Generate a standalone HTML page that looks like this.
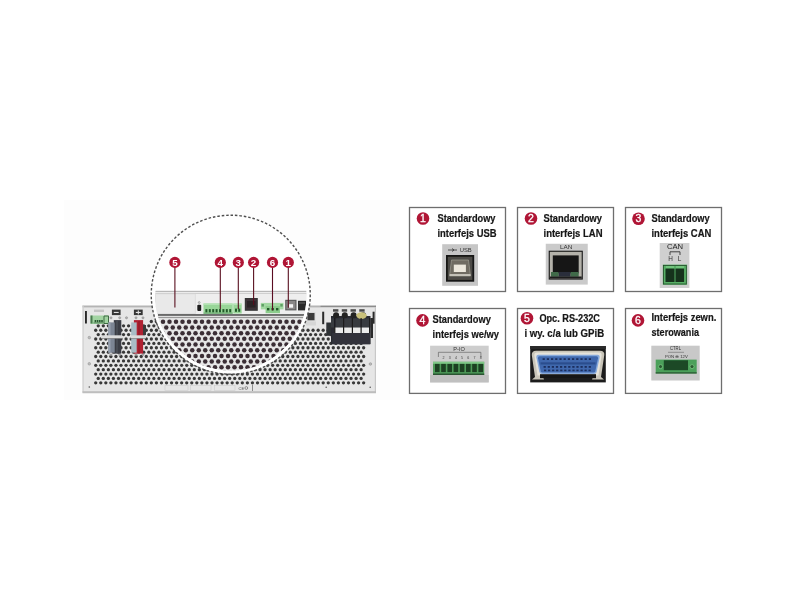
<!DOCTYPE html><html><head><meta charset="utf-8"><style>
html,body{margin:0;padding:0;background:#fff;width:800px;height:600px;overflow:hidden}
svg{display:block;will-change:transform}
text{font-family:"Liberation Sans",sans-serif}
.t{font-weight:bold;font-size:11.2px;fill:#161616;stroke:#161616;stroke-width:0.22px}
.bn{font-family:"Liberation Sans",sans-serif;font-weight:bold;font-size:9.8px;fill:#fff}
</style></head><body>
<svg width="800" height="600" viewBox="0 0 800 600">
<defs>
<clipPath id="cc"><circle cx="230.75" cy="294.7" r="76.0"/></clipPath>
<linearGradient id="chas" x1="0" y1="0" x2="0" y2="1"><stop offset="0" stop-color="#e4e4e4"/><stop offset="1" stop-color="#dedede"/></linearGradient>
<filter id="bl" x="-5%" y="-5%" width="110%" height="110%"><feGaussianBlur stdDeviation="0.35"/></filter>
<filter id="bl2" x="-5%" y="-5%" width="110%" height="110%"><feGaussianBlur stdDeviation="0.25"/></filter>
</defs>
<rect width="800" height="600" fill="#fff"/>
<rect x="64" y="200" width="336" height="200" fill="#fdfdfd"/>

<g filter="url(#bl)"><g id="dev">
<rect x="82.5" y="305.5" width="293.5" height="87.7" fill="#e6e6e6"/>
<rect x="82.5" y="305.6" width="293.5" height="1.8" fill="#b4b4b4"/>
<rect x="82.5" y="305.5" width="1.2" height="87" fill="#cfcfcf"/>
<rect x="374.8" y="305.5" width="1.2" height="87" fill="#c8c8c8"/>
<rect x="82.5" y="391.2" width="293.5" height="2.0" fill="#bdbdbd"/>
<g fill="#383838"><circle cx="95.72" cy="382.80" r="1.65"/><circle cx="100.78" cy="382.80" r="1.65"/><circle cx="105.84" cy="382.80" r="1.65"/><circle cx="110.89" cy="382.80" r="1.65"/><circle cx="115.94" cy="382.80" r="1.65"/><circle cx="121.00" cy="382.80" r="1.65"/><circle cx="126.06" cy="382.80" r="1.65"/><circle cx="131.11" cy="382.80" r="1.65"/><circle cx="136.16" cy="382.80" r="1.65"/><circle cx="141.22" cy="382.80" r="1.65"/><circle cx="146.28" cy="382.80" r="1.65"/><circle cx="151.33" cy="382.80" r="1.65"/><circle cx="156.38" cy="382.80" r="1.65"/><circle cx="161.44" cy="382.80" r="1.65"/><circle cx="166.50" cy="382.80" r="1.65"/><circle cx="171.55" cy="382.80" r="1.65"/><circle cx="176.60" cy="382.80" r="1.65"/><circle cx="181.66" cy="382.80" r="1.65"/><circle cx="186.72" cy="382.80" r="1.65"/><circle cx="191.77" cy="382.80" r="1.65"/><circle cx="196.82" cy="382.80" r="1.65"/><circle cx="201.88" cy="382.80" r="1.65"/><circle cx="206.94" cy="382.80" r="1.65"/><circle cx="211.99" cy="382.80" r="1.65"/><circle cx="217.04" cy="382.80" r="1.65"/><circle cx="222.10" cy="382.80" r="1.65"/><circle cx="227.16" cy="382.80" r="1.65"/><circle cx="232.21" cy="382.80" r="1.65"/><circle cx="237.26" cy="382.80" r="1.65"/><circle cx="242.32" cy="382.80" r="1.65"/><circle cx="247.38" cy="382.80" r="1.65"/><circle cx="252.43" cy="382.80" r="1.65"/><circle cx="257.49" cy="382.80" r="1.65"/><circle cx="262.54" cy="382.80" r="1.65"/><circle cx="267.59" cy="382.80" r="1.65"/><circle cx="272.65" cy="382.80" r="1.65"/><circle cx="277.70" cy="382.80" r="1.65"/><circle cx="282.76" cy="382.80" r="1.65"/><circle cx="287.81" cy="382.80" r="1.65"/><circle cx="292.87" cy="382.80" r="1.65"/><circle cx="297.93" cy="382.80" r="1.65"/><circle cx="302.98" cy="382.80" r="1.65"/><circle cx="308.03" cy="382.80" r="1.65"/><circle cx="313.09" cy="382.80" r="1.65"/><circle cx="318.14" cy="382.80" r="1.65"/><circle cx="323.20" cy="382.80" r="1.65"/><circle cx="328.25" cy="382.80" r="1.65"/><circle cx="333.31" cy="382.80" r="1.65"/><circle cx="338.37" cy="382.80" r="1.65"/><circle cx="343.42" cy="382.80" r="1.65"/><circle cx="348.47" cy="382.80" r="1.65"/><circle cx="353.53" cy="382.80" r="1.65"/><circle cx="358.58" cy="382.80" r="1.65"/><circle cx="363.64" cy="382.80" r="1.65"/><circle cx="98.25" cy="378.42" r="1.65"/><circle cx="103.31" cy="378.42" r="1.65"/><circle cx="108.36" cy="378.42" r="1.65"/><circle cx="113.42" cy="378.42" r="1.65"/><circle cx="118.47" cy="378.42" r="1.65"/><circle cx="123.53" cy="378.42" r="1.65"/><circle cx="128.58" cy="378.42" r="1.65"/><circle cx="133.64" cy="378.42" r="1.65"/><circle cx="138.69" cy="378.42" r="1.65"/><circle cx="143.75" cy="378.42" r="1.65"/><circle cx="148.80" cy="378.42" r="1.65"/><circle cx="153.86" cy="378.42" r="1.65"/><circle cx="158.91" cy="378.42" r="1.65"/><circle cx="163.97" cy="378.42" r="1.65"/><circle cx="169.02" cy="378.42" r="1.65"/><circle cx="174.08" cy="378.42" r="1.65"/><circle cx="179.13" cy="378.42" r="1.65"/><circle cx="184.19" cy="378.42" r="1.65"/><circle cx="189.24" cy="378.42" r="1.65"/><circle cx="194.30" cy="378.42" r="1.65"/><circle cx="199.35" cy="378.42" r="1.65"/><circle cx="204.41" cy="378.42" r="1.65"/><circle cx="209.46" cy="378.42" r="1.65"/><circle cx="214.52" cy="378.42" r="1.65"/><circle cx="219.57" cy="378.42" r="1.65"/><circle cx="224.63" cy="378.42" r="1.65"/><circle cx="229.68" cy="378.42" r="1.65"/><circle cx="234.74" cy="378.42" r="1.65"/><circle cx="239.79" cy="378.42" r="1.65"/><circle cx="244.85" cy="378.42" r="1.65"/><circle cx="249.90" cy="378.42" r="1.65"/><circle cx="254.96" cy="378.42" r="1.65"/><circle cx="260.01" cy="378.42" r="1.65"/><circle cx="265.07" cy="378.42" r="1.65"/><circle cx="270.12" cy="378.42" r="1.65"/><circle cx="275.18" cy="378.42" r="1.65"/><circle cx="280.23" cy="378.42" r="1.65"/><circle cx="285.29" cy="378.42" r="1.65"/><circle cx="290.34" cy="378.42" r="1.65"/><circle cx="295.40" cy="378.42" r="1.65"/><circle cx="300.45" cy="378.42" r="1.65"/><circle cx="305.51" cy="378.42" r="1.65"/><circle cx="310.56" cy="378.42" r="1.65"/><circle cx="315.62" cy="378.42" r="1.65"/><circle cx="320.67" cy="378.42" r="1.65"/><circle cx="325.73" cy="378.42" r="1.65"/><circle cx="330.78" cy="378.42" r="1.65"/><circle cx="335.84" cy="378.42" r="1.65"/><circle cx="340.89" cy="378.42" r="1.65"/><circle cx="345.95" cy="378.42" r="1.65"/><circle cx="351.00" cy="378.42" r="1.65"/><circle cx="356.06" cy="378.42" r="1.65"/><circle cx="361.11" cy="378.42" r="1.65"/><circle cx="95.72" cy="374.04" r="1.65"/><circle cx="100.78" cy="374.04" r="1.65"/><circle cx="105.84" cy="374.04" r="1.65"/><circle cx="110.89" cy="374.04" r="1.65"/><circle cx="115.94" cy="374.04" r="1.65"/><circle cx="121.00" cy="374.04" r="1.65"/><circle cx="126.06" cy="374.04" r="1.65"/><circle cx="131.11" cy="374.04" r="1.65"/><circle cx="136.16" cy="374.04" r="1.65"/><circle cx="141.22" cy="374.04" r="1.65"/><circle cx="146.28" cy="374.04" r="1.65"/><circle cx="151.33" cy="374.04" r="1.65"/><circle cx="156.38" cy="374.04" r="1.65"/><circle cx="161.44" cy="374.04" r="1.65"/><circle cx="166.50" cy="374.04" r="1.65"/><circle cx="171.55" cy="374.04" r="1.65"/><circle cx="176.60" cy="374.04" r="1.65"/><circle cx="181.66" cy="374.04" r="1.65"/><circle cx="186.72" cy="374.04" r="1.65"/><circle cx="191.77" cy="374.04" r="1.65"/><circle cx="196.82" cy="374.04" r="1.65"/><circle cx="201.88" cy="374.04" r="1.65"/><circle cx="206.94" cy="374.04" r="1.65"/><circle cx="211.99" cy="374.04" r="1.65"/><circle cx="217.04" cy="374.04" r="1.65"/><circle cx="222.10" cy="374.04" r="1.65"/><circle cx="227.16" cy="374.04" r="1.65"/><circle cx="232.21" cy="374.04" r="1.65"/><circle cx="237.26" cy="374.04" r="1.65"/><circle cx="242.32" cy="374.04" r="1.65"/><circle cx="247.38" cy="374.04" r="1.65"/><circle cx="252.43" cy="374.04" r="1.65"/><circle cx="257.49" cy="374.04" r="1.65"/><circle cx="262.54" cy="374.04" r="1.65"/><circle cx="267.59" cy="374.04" r="1.65"/><circle cx="272.65" cy="374.04" r="1.65"/><circle cx="277.70" cy="374.04" r="1.65"/><circle cx="282.76" cy="374.04" r="1.65"/><circle cx="287.81" cy="374.04" r="1.65"/><circle cx="292.87" cy="374.04" r="1.65"/><circle cx="297.93" cy="374.04" r="1.65"/><circle cx="302.98" cy="374.04" r="1.65"/><circle cx="308.03" cy="374.04" r="1.65"/><circle cx="313.09" cy="374.04" r="1.65"/><circle cx="318.14" cy="374.04" r="1.65"/><circle cx="323.20" cy="374.04" r="1.65"/><circle cx="328.25" cy="374.04" r="1.65"/><circle cx="333.31" cy="374.04" r="1.65"/><circle cx="338.37" cy="374.04" r="1.65"/><circle cx="343.42" cy="374.04" r="1.65"/><circle cx="348.47" cy="374.04" r="1.65"/><circle cx="353.53" cy="374.04" r="1.65"/><circle cx="358.58" cy="374.04" r="1.65"/><circle cx="363.64" cy="374.04" r="1.65"/><circle cx="98.25" cy="369.66" r="1.65"/><circle cx="103.31" cy="369.66" r="1.65"/><circle cx="108.36" cy="369.66" r="1.65"/><circle cx="113.42" cy="369.66" r="1.65"/><circle cx="118.47" cy="369.66" r="1.65"/><circle cx="123.53" cy="369.66" r="1.65"/><circle cx="128.58" cy="369.66" r="1.65"/><circle cx="133.64" cy="369.66" r="1.65"/><circle cx="138.69" cy="369.66" r="1.65"/><circle cx="143.75" cy="369.66" r="1.65"/><circle cx="148.80" cy="369.66" r="1.65"/><circle cx="153.86" cy="369.66" r="1.65"/><circle cx="158.91" cy="369.66" r="1.65"/><circle cx="163.97" cy="369.66" r="1.65"/><circle cx="169.02" cy="369.66" r="1.65"/><circle cx="174.08" cy="369.66" r="1.65"/><circle cx="179.13" cy="369.66" r="1.65"/><circle cx="184.19" cy="369.66" r="1.65"/><circle cx="189.24" cy="369.66" r="1.65"/><circle cx="194.30" cy="369.66" r="1.65"/><circle cx="199.35" cy="369.66" r="1.65"/><circle cx="204.41" cy="369.66" r="1.65"/><circle cx="209.46" cy="369.66" r="1.65"/><circle cx="214.52" cy="369.66" r="1.65"/><circle cx="219.57" cy="369.66" r="1.65"/><circle cx="224.63" cy="369.66" r="1.65"/><circle cx="229.68" cy="369.66" r="1.65"/><circle cx="234.74" cy="369.66" r="1.65"/><circle cx="239.79" cy="369.66" r="1.65"/><circle cx="244.85" cy="369.66" r="1.65"/><circle cx="249.90" cy="369.66" r="1.65"/><circle cx="254.96" cy="369.66" r="1.65"/><circle cx="260.01" cy="369.66" r="1.65"/><circle cx="265.07" cy="369.66" r="1.65"/><circle cx="270.12" cy="369.66" r="1.65"/><circle cx="275.18" cy="369.66" r="1.65"/><circle cx="280.23" cy="369.66" r="1.65"/><circle cx="285.29" cy="369.66" r="1.65"/><circle cx="290.34" cy="369.66" r="1.65"/><circle cx="295.40" cy="369.66" r="1.65"/><circle cx="300.45" cy="369.66" r="1.65"/><circle cx="305.51" cy="369.66" r="1.65"/><circle cx="310.56" cy="369.66" r="1.65"/><circle cx="315.62" cy="369.66" r="1.65"/><circle cx="320.67" cy="369.66" r="1.65"/><circle cx="325.73" cy="369.66" r="1.65"/><circle cx="330.78" cy="369.66" r="1.65"/><circle cx="335.84" cy="369.66" r="1.65"/><circle cx="340.89" cy="369.66" r="1.65"/><circle cx="345.95" cy="369.66" r="1.65"/><circle cx="351.00" cy="369.66" r="1.65"/><circle cx="356.06" cy="369.66" r="1.65"/><circle cx="361.11" cy="369.66" r="1.65"/><circle cx="95.72" cy="365.28" r="1.65"/><circle cx="100.78" cy="365.28" r="1.65"/><circle cx="105.84" cy="365.28" r="1.65"/><circle cx="110.89" cy="365.28" r="1.65"/><circle cx="115.94" cy="365.28" r="1.65"/><circle cx="121.00" cy="365.28" r="1.65"/><circle cx="126.06" cy="365.28" r="1.65"/><circle cx="131.11" cy="365.28" r="1.65"/><circle cx="136.16" cy="365.28" r="1.65"/><circle cx="141.22" cy="365.28" r="1.65"/><circle cx="146.28" cy="365.28" r="1.65"/><circle cx="151.33" cy="365.28" r="1.65"/><circle cx="156.38" cy="365.28" r="1.65"/><circle cx="161.44" cy="365.28" r="1.65"/><circle cx="166.50" cy="365.28" r="1.65"/><circle cx="171.55" cy="365.28" r="1.65"/><circle cx="176.60" cy="365.28" r="1.65"/><circle cx="181.66" cy="365.28" r="1.65"/><circle cx="186.72" cy="365.28" r="1.65"/><circle cx="191.77" cy="365.28" r="1.65"/><circle cx="196.82" cy="365.28" r="1.65"/><circle cx="201.88" cy="365.28" r="1.65"/><circle cx="206.94" cy="365.28" r="1.65"/><circle cx="211.99" cy="365.28" r="1.65"/><circle cx="217.04" cy="365.28" r="1.65"/><circle cx="222.10" cy="365.28" r="1.65"/><circle cx="227.16" cy="365.28" r="1.65"/><circle cx="232.21" cy="365.28" r="1.65"/><circle cx="237.26" cy="365.28" r="1.65"/><circle cx="242.32" cy="365.28" r="1.65"/><circle cx="247.38" cy="365.28" r="1.65"/><circle cx="252.43" cy="365.28" r="1.65"/><circle cx="257.49" cy="365.28" r="1.65"/><circle cx="262.54" cy="365.28" r="1.65"/><circle cx="267.59" cy="365.28" r="1.65"/><circle cx="272.65" cy="365.28" r="1.65"/><circle cx="277.70" cy="365.28" r="1.65"/><circle cx="282.76" cy="365.28" r="1.65"/><circle cx="287.81" cy="365.28" r="1.65"/><circle cx="292.87" cy="365.28" r="1.65"/><circle cx="297.93" cy="365.28" r="1.65"/><circle cx="302.98" cy="365.28" r="1.65"/><circle cx="308.03" cy="365.28" r="1.65"/><circle cx="313.09" cy="365.28" r="1.65"/><circle cx="318.14" cy="365.28" r="1.65"/><circle cx="323.20" cy="365.28" r="1.65"/><circle cx="328.25" cy="365.28" r="1.65"/><circle cx="333.31" cy="365.28" r="1.65"/><circle cx="338.37" cy="365.28" r="1.65"/><circle cx="343.42" cy="365.28" r="1.65"/><circle cx="348.47" cy="365.28" r="1.65"/><circle cx="353.53" cy="365.28" r="1.65"/><circle cx="358.58" cy="365.28" r="1.65"/><circle cx="363.64" cy="365.28" r="1.65"/><circle cx="98.25" cy="360.90" r="1.65"/><circle cx="103.31" cy="360.90" r="1.65"/><circle cx="108.36" cy="360.90" r="1.65"/><circle cx="113.42" cy="360.90" r="1.65"/><circle cx="118.47" cy="360.90" r="1.65"/><circle cx="123.53" cy="360.90" r="1.65"/><circle cx="128.58" cy="360.90" r="1.65"/><circle cx="133.64" cy="360.90" r="1.65"/><circle cx="138.69" cy="360.90" r="1.65"/><circle cx="143.75" cy="360.90" r="1.65"/><circle cx="148.80" cy="360.90" r="1.65"/><circle cx="153.86" cy="360.90" r="1.65"/><circle cx="158.91" cy="360.90" r="1.65"/><circle cx="163.97" cy="360.90" r="1.65"/><circle cx="169.02" cy="360.90" r="1.65"/><circle cx="174.08" cy="360.90" r="1.65"/><circle cx="179.13" cy="360.90" r="1.65"/><circle cx="184.19" cy="360.90" r="1.65"/><circle cx="189.24" cy="360.90" r="1.65"/><circle cx="194.30" cy="360.90" r="1.65"/><circle cx="199.35" cy="360.90" r="1.65"/><circle cx="204.41" cy="360.90" r="1.65"/><circle cx="209.46" cy="360.90" r="1.65"/><circle cx="214.52" cy="360.90" r="1.65"/><circle cx="219.57" cy="360.90" r="1.65"/><circle cx="224.63" cy="360.90" r="1.65"/><circle cx="229.68" cy="360.90" r="1.65"/><circle cx="234.74" cy="360.90" r="1.65"/><circle cx="239.79" cy="360.90" r="1.65"/><circle cx="244.85" cy="360.90" r="1.65"/><circle cx="249.90" cy="360.90" r="1.65"/><circle cx="254.96" cy="360.90" r="1.65"/><circle cx="260.01" cy="360.90" r="1.65"/><circle cx="265.07" cy="360.90" r="1.65"/><circle cx="270.12" cy="360.90" r="1.65"/><circle cx="275.18" cy="360.90" r="1.65"/><circle cx="280.23" cy="360.90" r="1.65"/><circle cx="285.29" cy="360.90" r="1.65"/><circle cx="290.34" cy="360.90" r="1.65"/><circle cx="295.40" cy="360.90" r="1.65"/><circle cx="300.45" cy="360.90" r="1.65"/><circle cx="305.51" cy="360.90" r="1.65"/><circle cx="310.56" cy="360.90" r="1.65"/><circle cx="315.62" cy="360.90" r="1.65"/><circle cx="320.67" cy="360.90" r="1.65"/><circle cx="325.73" cy="360.90" r="1.65"/><circle cx="330.78" cy="360.90" r="1.65"/><circle cx="335.84" cy="360.90" r="1.65"/><circle cx="340.89" cy="360.90" r="1.65"/><circle cx="345.95" cy="360.90" r="1.65"/><circle cx="351.00" cy="360.90" r="1.65"/><circle cx="356.06" cy="360.90" r="1.65"/><circle cx="361.11" cy="360.90" r="1.65"/><circle cx="95.72" cy="356.52" r="1.65"/><circle cx="100.78" cy="356.52" r="1.65"/><circle cx="105.84" cy="356.52" r="1.65"/><circle cx="110.89" cy="356.52" r="1.65"/><circle cx="115.94" cy="356.52" r="1.65"/><circle cx="121.00" cy="356.52" r="1.65"/><circle cx="126.06" cy="356.52" r="1.65"/><circle cx="131.11" cy="356.52" r="1.65"/><circle cx="136.16" cy="356.52" r="1.65"/><circle cx="141.22" cy="356.52" r="1.65"/><circle cx="146.28" cy="356.52" r="1.65"/><circle cx="151.33" cy="356.52" r="1.65"/><circle cx="156.38" cy="356.52" r="1.65"/><circle cx="161.44" cy="356.52" r="1.65"/><circle cx="166.50" cy="356.52" r="1.65"/><circle cx="171.55" cy="356.52" r="1.65"/><circle cx="176.60" cy="356.52" r="1.65"/><circle cx="181.66" cy="356.52" r="1.65"/><circle cx="186.72" cy="356.52" r="1.65"/><circle cx="191.77" cy="356.52" r="1.65"/><circle cx="196.82" cy="356.52" r="1.65"/><circle cx="201.88" cy="356.52" r="1.65"/><circle cx="206.94" cy="356.52" r="1.65"/><circle cx="211.99" cy="356.52" r="1.65"/><circle cx="217.04" cy="356.52" r="1.65"/><circle cx="222.10" cy="356.52" r="1.65"/><circle cx="227.16" cy="356.52" r="1.65"/><circle cx="232.21" cy="356.52" r="1.65"/><circle cx="237.26" cy="356.52" r="1.65"/><circle cx="242.32" cy="356.52" r="1.65"/><circle cx="247.38" cy="356.52" r="1.65"/><circle cx="252.43" cy="356.52" r="1.65"/><circle cx="257.49" cy="356.52" r="1.65"/><circle cx="262.54" cy="356.52" r="1.65"/><circle cx="267.59" cy="356.52" r="1.65"/><circle cx="272.65" cy="356.52" r="1.65"/><circle cx="277.70" cy="356.52" r="1.65"/><circle cx="282.76" cy="356.52" r="1.65"/><circle cx="287.81" cy="356.52" r="1.65"/><circle cx="292.87" cy="356.52" r="1.65"/><circle cx="297.93" cy="356.52" r="1.65"/><circle cx="302.98" cy="356.52" r="1.65"/><circle cx="308.03" cy="356.52" r="1.65"/><circle cx="313.09" cy="356.52" r="1.65"/><circle cx="318.14" cy="356.52" r="1.65"/><circle cx="323.20" cy="356.52" r="1.65"/><circle cx="328.25" cy="356.52" r="1.65"/><circle cx="333.31" cy="356.52" r="1.65"/><circle cx="338.37" cy="356.52" r="1.65"/><circle cx="343.42" cy="356.52" r="1.65"/><circle cx="348.47" cy="356.52" r="1.65"/><circle cx="353.53" cy="356.52" r="1.65"/><circle cx="358.58" cy="356.52" r="1.65"/><circle cx="363.64" cy="356.52" r="1.65"/><circle cx="98.25" cy="352.14" r="1.65"/><circle cx="103.31" cy="352.14" r="1.65"/><circle cx="108.36" cy="352.14" r="1.65"/><circle cx="113.42" cy="352.14" r="1.65"/><circle cx="118.47" cy="352.14" r="1.65"/><circle cx="123.53" cy="352.14" r="1.65"/><circle cx="128.58" cy="352.14" r="1.65"/><circle cx="133.64" cy="352.14" r="1.65"/><circle cx="138.69" cy="352.14" r="1.65"/><circle cx="143.75" cy="352.14" r="1.65"/><circle cx="148.80" cy="352.14" r="1.65"/><circle cx="153.86" cy="352.14" r="1.65"/><circle cx="158.91" cy="352.14" r="1.65"/><circle cx="163.97" cy="352.14" r="1.65"/><circle cx="169.02" cy="352.14" r="1.65"/><circle cx="174.08" cy="352.14" r="1.65"/><circle cx="179.13" cy="352.14" r="1.65"/><circle cx="184.19" cy="352.14" r="1.65"/><circle cx="189.24" cy="352.14" r="1.65"/><circle cx="194.30" cy="352.14" r="1.65"/><circle cx="199.35" cy="352.14" r="1.65"/><circle cx="204.41" cy="352.14" r="1.65"/><circle cx="209.46" cy="352.14" r="1.65"/><circle cx="214.52" cy="352.14" r="1.65"/><circle cx="219.57" cy="352.14" r="1.65"/><circle cx="224.63" cy="352.14" r="1.65"/><circle cx="229.68" cy="352.14" r="1.65"/><circle cx="234.74" cy="352.14" r="1.65"/><circle cx="239.79" cy="352.14" r="1.65"/><circle cx="244.85" cy="352.14" r="1.65"/><circle cx="249.90" cy="352.14" r="1.65"/><circle cx="254.96" cy="352.14" r="1.65"/><circle cx="260.01" cy="352.14" r="1.65"/><circle cx="265.07" cy="352.14" r="1.65"/><circle cx="270.12" cy="352.14" r="1.65"/><circle cx="275.18" cy="352.14" r="1.65"/><circle cx="280.23" cy="352.14" r="1.65"/><circle cx="285.29" cy="352.14" r="1.65"/><circle cx="290.34" cy="352.14" r="1.65"/><circle cx="295.40" cy="352.14" r="1.65"/><circle cx="300.45" cy="352.14" r="1.65"/><circle cx="305.51" cy="352.14" r="1.65"/><circle cx="310.56" cy="352.14" r="1.65"/><circle cx="315.62" cy="352.14" r="1.65"/><circle cx="320.67" cy="352.14" r="1.65"/><circle cx="325.73" cy="352.14" r="1.65"/><circle cx="330.78" cy="352.14" r="1.65"/><circle cx="335.84" cy="352.14" r="1.65"/><circle cx="340.89" cy="352.14" r="1.65"/><circle cx="345.95" cy="352.14" r="1.65"/><circle cx="351.00" cy="352.14" r="1.65"/><circle cx="356.06" cy="352.14" r="1.65"/><circle cx="361.11" cy="352.14" r="1.65"/><circle cx="95.72" cy="347.76" r="1.65"/><circle cx="100.78" cy="347.76" r="1.65"/><circle cx="105.84" cy="347.76" r="1.65"/><circle cx="110.89" cy="347.76" r="1.65"/><circle cx="115.94" cy="347.76" r="1.65"/><circle cx="121.00" cy="347.76" r="1.65"/><circle cx="126.06" cy="347.76" r="1.65"/><circle cx="131.11" cy="347.76" r="1.65"/><circle cx="136.16" cy="347.76" r="1.65"/><circle cx="141.22" cy="347.76" r="1.65"/><circle cx="146.28" cy="347.76" r="1.65"/><circle cx="151.33" cy="347.76" r="1.65"/><circle cx="156.38" cy="347.76" r="1.65"/><circle cx="161.44" cy="347.76" r="1.65"/><circle cx="166.50" cy="347.76" r="1.65"/><circle cx="171.55" cy="347.76" r="1.65"/><circle cx="176.60" cy="347.76" r="1.65"/><circle cx="181.66" cy="347.76" r="1.65"/><circle cx="186.72" cy="347.76" r="1.65"/><circle cx="191.77" cy="347.76" r="1.65"/><circle cx="196.82" cy="347.76" r="1.65"/><circle cx="201.88" cy="347.76" r="1.65"/><circle cx="206.94" cy="347.76" r="1.65"/><circle cx="211.99" cy="347.76" r="1.65"/><circle cx="217.04" cy="347.76" r="1.65"/><circle cx="222.10" cy="347.76" r="1.65"/><circle cx="227.16" cy="347.76" r="1.65"/><circle cx="232.21" cy="347.76" r="1.65"/><circle cx="237.26" cy="347.76" r="1.65"/><circle cx="242.32" cy="347.76" r="1.65"/><circle cx="247.38" cy="347.76" r="1.65"/><circle cx="252.43" cy="347.76" r="1.65"/><circle cx="257.49" cy="347.76" r="1.65"/><circle cx="262.54" cy="347.76" r="1.65"/><circle cx="267.59" cy="347.76" r="1.65"/><circle cx="272.65" cy="347.76" r="1.65"/><circle cx="277.70" cy="347.76" r="1.65"/><circle cx="282.76" cy="347.76" r="1.65"/><circle cx="287.81" cy="347.76" r="1.65"/><circle cx="292.87" cy="347.76" r="1.65"/><circle cx="297.93" cy="347.76" r="1.65"/><circle cx="302.98" cy="347.76" r="1.65"/><circle cx="308.03" cy="347.76" r="1.65"/><circle cx="313.09" cy="347.76" r="1.65"/><circle cx="318.14" cy="347.76" r="1.65"/><circle cx="323.20" cy="347.76" r="1.65"/><circle cx="328.25" cy="347.76" r="1.65"/><circle cx="333.31" cy="347.76" r="1.65"/><circle cx="338.37" cy="347.76" r="1.65"/><circle cx="343.42" cy="347.76" r="1.65"/><circle cx="348.47" cy="347.76" r="1.65"/><circle cx="353.53" cy="347.76" r="1.65"/><circle cx="358.58" cy="347.76" r="1.65"/><circle cx="363.64" cy="347.76" r="1.65"/><circle cx="98.25" cy="343.38" r="1.65"/><circle cx="103.31" cy="343.38" r="1.65"/><circle cx="108.36" cy="343.38" r="1.65"/><circle cx="113.42" cy="343.38" r="1.65"/><circle cx="118.47" cy="343.38" r="1.65"/><circle cx="123.53" cy="343.38" r="1.65"/><circle cx="128.58" cy="343.38" r="1.65"/><circle cx="133.64" cy="343.38" r="1.65"/><circle cx="138.69" cy="343.38" r="1.65"/><circle cx="143.75" cy="343.38" r="1.65"/><circle cx="148.80" cy="343.38" r="1.65"/><circle cx="153.86" cy="343.38" r="1.65"/><circle cx="158.91" cy="343.38" r="1.65"/><circle cx="163.97" cy="343.38" r="1.65"/><circle cx="169.02" cy="343.38" r="1.65"/><circle cx="174.08" cy="343.38" r="1.65"/><circle cx="179.13" cy="343.38" r="1.65"/><circle cx="184.19" cy="343.38" r="1.65"/><circle cx="189.24" cy="343.38" r="1.65"/><circle cx="194.30" cy="343.38" r="1.65"/><circle cx="199.35" cy="343.38" r="1.65"/><circle cx="204.41" cy="343.38" r="1.65"/><circle cx="209.46" cy="343.38" r="1.65"/><circle cx="214.52" cy="343.38" r="1.65"/><circle cx="219.57" cy="343.38" r="1.65"/><circle cx="224.63" cy="343.38" r="1.65"/><circle cx="229.68" cy="343.38" r="1.65"/><circle cx="234.74" cy="343.38" r="1.65"/><circle cx="239.79" cy="343.38" r="1.65"/><circle cx="244.85" cy="343.38" r="1.65"/><circle cx="249.90" cy="343.38" r="1.65"/><circle cx="254.96" cy="343.38" r="1.65"/><circle cx="260.01" cy="343.38" r="1.65"/><circle cx="265.07" cy="343.38" r="1.65"/><circle cx="270.12" cy="343.38" r="1.65"/><circle cx="275.18" cy="343.38" r="1.65"/><circle cx="280.23" cy="343.38" r="1.65"/><circle cx="285.29" cy="343.38" r="1.65"/><circle cx="290.34" cy="343.38" r="1.65"/><circle cx="295.40" cy="343.38" r="1.65"/><circle cx="300.45" cy="343.38" r="1.65"/><circle cx="305.51" cy="343.38" r="1.65"/><circle cx="310.56" cy="343.38" r="1.65"/><circle cx="315.62" cy="343.38" r="1.65"/><circle cx="320.67" cy="343.38" r="1.65"/><circle cx="325.73" cy="343.38" r="1.65"/><circle cx="330.78" cy="343.38" r="1.65"/><circle cx="335.84" cy="343.38" r="1.65"/><circle cx="340.89" cy="343.38" r="1.65"/><circle cx="345.95" cy="343.38" r="1.65"/><circle cx="351.00" cy="343.38" r="1.65"/><circle cx="356.06" cy="343.38" r="1.65"/><circle cx="361.11" cy="343.38" r="1.65"/><circle cx="95.72" cy="339.00" r="1.65"/><circle cx="100.78" cy="339.00" r="1.65"/><circle cx="105.84" cy="339.00" r="1.65"/><circle cx="110.89" cy="339.00" r="1.65"/><circle cx="115.94" cy="339.00" r="1.65"/><circle cx="121.00" cy="339.00" r="1.65"/><circle cx="126.06" cy="339.00" r="1.65"/><circle cx="131.11" cy="339.00" r="1.65"/><circle cx="136.16" cy="339.00" r="1.65"/><circle cx="141.22" cy="339.00" r="1.65"/><circle cx="146.28" cy="339.00" r="1.65"/><circle cx="151.33" cy="339.00" r="1.65"/><circle cx="156.38" cy="339.00" r="1.65"/><circle cx="161.44" cy="339.00" r="1.65"/><circle cx="166.50" cy="339.00" r="1.65"/><circle cx="171.55" cy="339.00" r="1.65"/><circle cx="176.60" cy="339.00" r="1.65"/><circle cx="181.66" cy="339.00" r="1.65"/><circle cx="186.72" cy="339.00" r="1.65"/><circle cx="191.77" cy="339.00" r="1.65"/><circle cx="196.82" cy="339.00" r="1.65"/><circle cx="201.88" cy="339.00" r="1.65"/><circle cx="206.94" cy="339.00" r="1.65"/><circle cx="211.99" cy="339.00" r="1.65"/><circle cx="217.04" cy="339.00" r="1.65"/><circle cx="222.10" cy="339.00" r="1.65"/><circle cx="227.16" cy="339.00" r="1.65"/><circle cx="232.21" cy="339.00" r="1.65"/><circle cx="237.26" cy="339.00" r="1.65"/><circle cx="242.32" cy="339.00" r="1.65"/><circle cx="247.38" cy="339.00" r="1.65"/><circle cx="252.43" cy="339.00" r="1.65"/><circle cx="257.49" cy="339.00" r="1.65"/><circle cx="262.54" cy="339.00" r="1.65"/><circle cx="267.59" cy="339.00" r="1.65"/><circle cx="272.65" cy="339.00" r="1.65"/><circle cx="277.70" cy="339.00" r="1.65"/><circle cx="282.76" cy="339.00" r="1.65"/><circle cx="287.81" cy="339.00" r="1.65"/><circle cx="292.87" cy="339.00" r="1.65"/><circle cx="297.93" cy="339.00" r="1.65"/><circle cx="302.98" cy="339.00" r="1.65"/><circle cx="308.03" cy="339.00" r="1.65"/><circle cx="313.09" cy="339.00" r="1.65"/><circle cx="318.14" cy="339.00" r="1.65"/><circle cx="323.20" cy="339.00" r="1.65"/><circle cx="328.25" cy="339.00" r="1.65"/><circle cx="333.31" cy="339.00" r="1.65"/><circle cx="338.37" cy="339.00" r="1.65"/><circle cx="343.42" cy="339.00" r="1.65"/><circle cx="348.47" cy="339.00" r="1.65"/><circle cx="353.53" cy="339.00" r="1.65"/><circle cx="358.58" cy="339.00" r="1.65"/><circle cx="363.64" cy="339.00" r="1.65"/><circle cx="98.25" cy="334.62" r="1.65"/><circle cx="103.31" cy="334.62" r="1.65"/><circle cx="108.36" cy="334.62" r="1.65"/><circle cx="113.42" cy="334.62" r="1.65"/><circle cx="118.47" cy="334.62" r="1.65"/><circle cx="123.53" cy="334.62" r="1.65"/><circle cx="128.58" cy="334.62" r="1.65"/><circle cx="133.64" cy="334.62" r="1.65"/><circle cx="138.69" cy="334.62" r="1.65"/><circle cx="143.75" cy="334.62" r="1.65"/><circle cx="148.80" cy="334.62" r="1.65"/><circle cx="153.86" cy="334.62" r="1.65"/><circle cx="158.91" cy="334.62" r="1.65"/><circle cx="163.97" cy="334.62" r="1.65"/><circle cx="169.02" cy="334.62" r="1.65"/><circle cx="174.08" cy="334.62" r="1.65"/><circle cx="179.13" cy="334.62" r="1.65"/><circle cx="184.19" cy="334.62" r="1.65"/><circle cx="189.24" cy="334.62" r="1.65"/><circle cx="194.30" cy="334.62" r="1.65"/><circle cx="199.35" cy="334.62" r="1.65"/><circle cx="204.41" cy="334.62" r="1.65"/><circle cx="209.46" cy="334.62" r="1.65"/><circle cx="214.52" cy="334.62" r="1.65"/><circle cx="219.57" cy="334.62" r="1.65"/><circle cx="224.63" cy="334.62" r="1.65"/><circle cx="229.68" cy="334.62" r="1.65"/><circle cx="234.74" cy="334.62" r="1.65"/><circle cx="239.79" cy="334.62" r="1.65"/><circle cx="244.85" cy="334.62" r="1.65"/><circle cx="249.90" cy="334.62" r="1.65"/><circle cx="254.96" cy="334.62" r="1.65"/><circle cx="260.01" cy="334.62" r="1.65"/><circle cx="265.07" cy="334.62" r="1.65"/><circle cx="270.12" cy="334.62" r="1.65"/><circle cx="275.18" cy="334.62" r="1.65"/><circle cx="280.23" cy="334.62" r="1.65"/><circle cx="285.29" cy="334.62" r="1.65"/><circle cx="290.34" cy="334.62" r="1.65"/><circle cx="295.40" cy="334.62" r="1.65"/><circle cx="300.45" cy="334.62" r="1.65"/><circle cx="305.51" cy="334.62" r="1.65"/><circle cx="310.56" cy="334.62" r="1.65"/><circle cx="315.62" cy="334.62" r="1.65"/><circle cx="320.67" cy="334.62" r="1.65"/><circle cx="325.73" cy="334.62" r="1.65"/><circle cx="330.78" cy="334.62" r="1.65"/><circle cx="335.84" cy="334.62" r="1.65"/><circle cx="340.89" cy="334.62" r="1.65"/><circle cx="345.95" cy="334.62" r="1.65"/><circle cx="351.00" cy="334.62" r="1.65"/><circle cx="356.06" cy="334.62" r="1.65"/><circle cx="361.11" cy="334.62" r="1.65"/><circle cx="95.72" cy="330.24" r="1.65"/><circle cx="100.78" cy="330.24" r="1.65"/><circle cx="105.84" cy="330.24" r="1.65"/><circle cx="110.89" cy="330.24" r="1.65"/><circle cx="115.94" cy="330.24" r="1.65"/><circle cx="121.00" cy="330.24" r="1.65"/><circle cx="126.06" cy="330.24" r="1.65"/><circle cx="131.11" cy="330.24" r="1.65"/><circle cx="136.16" cy="330.24" r="1.65"/><circle cx="141.22" cy="330.24" r="1.65"/><circle cx="146.28" cy="330.24" r="1.65"/><circle cx="151.33" cy="330.24" r="1.65"/><circle cx="156.38" cy="330.24" r="1.65"/><circle cx="161.44" cy="330.24" r="1.65"/><circle cx="166.50" cy="330.24" r="1.65"/><circle cx="171.55" cy="330.24" r="1.65"/><circle cx="176.60" cy="330.24" r="1.65"/><circle cx="181.66" cy="330.24" r="1.65"/><circle cx="186.72" cy="330.24" r="1.65"/><circle cx="191.77" cy="330.24" r="1.65"/><circle cx="196.82" cy="330.24" r="1.65"/><circle cx="201.88" cy="330.24" r="1.65"/><circle cx="206.94" cy="330.24" r="1.65"/><circle cx="211.99" cy="330.24" r="1.65"/><circle cx="217.04" cy="330.24" r="1.65"/><circle cx="222.10" cy="330.24" r="1.65"/><circle cx="227.16" cy="330.24" r="1.65"/><circle cx="232.21" cy="330.24" r="1.65"/><circle cx="237.26" cy="330.24" r="1.65"/><circle cx="242.32" cy="330.24" r="1.65"/><circle cx="247.38" cy="330.24" r="1.65"/><circle cx="252.43" cy="330.24" r="1.65"/><circle cx="257.49" cy="330.24" r="1.65"/><circle cx="262.54" cy="330.24" r="1.65"/><circle cx="267.59" cy="330.24" r="1.65"/><circle cx="272.65" cy="330.24" r="1.65"/><circle cx="277.70" cy="330.24" r="1.65"/><circle cx="282.76" cy="330.24" r="1.65"/><circle cx="287.81" cy="330.24" r="1.65"/><circle cx="292.87" cy="330.24" r="1.65"/><circle cx="297.93" cy="330.24" r="1.65"/><circle cx="302.98" cy="330.24" r="1.65"/><circle cx="308.03" cy="330.24" r="1.65"/><circle cx="313.09" cy="330.24" r="1.65"/><circle cx="318.14" cy="330.24" r="1.65"/><circle cx="323.20" cy="330.24" r="1.65"/><circle cx="328.25" cy="330.24" r="1.65"/><circle cx="333.31" cy="330.24" r="1.65"/><circle cx="338.37" cy="330.24" r="1.65"/><circle cx="343.42" cy="330.24" r="1.65"/><circle cx="348.47" cy="330.24" r="1.65"/><circle cx="353.53" cy="330.24" r="1.65"/><circle cx="358.58" cy="330.24" r="1.65"/><circle cx="363.64" cy="330.24" r="1.65"/><circle cx="98.25" cy="325.86" r="1.65"/><circle cx="103.31" cy="325.86" r="1.65"/><circle cx="108.36" cy="325.86" r="1.65"/><circle cx="113.42" cy="325.86" r="1.65"/><circle cx="118.47" cy="325.86" r="1.65"/><circle cx="123.53" cy="325.86" r="1.65"/><circle cx="128.58" cy="325.86" r="1.65"/><circle cx="133.64" cy="325.86" r="1.65"/><circle cx="138.69" cy="325.86" r="1.65"/><circle cx="143.75" cy="325.86" r="1.65"/><circle cx="148.80" cy="325.86" r="1.65"/><circle cx="153.86" cy="325.86" r="1.65"/><circle cx="158.91" cy="325.86" r="1.65"/><circle cx="163.97" cy="325.86" r="1.65"/><circle cx="169.02" cy="325.86" r="1.65"/><circle cx="174.08" cy="325.86" r="1.65"/><circle cx="179.13" cy="325.86" r="1.65"/><circle cx="184.19" cy="325.86" r="1.65"/><circle cx="189.24" cy="325.86" r="1.65"/><circle cx="194.30" cy="325.86" r="1.65"/><circle cx="199.35" cy="325.86" r="1.65"/><circle cx="204.41" cy="325.86" r="1.65"/><circle cx="209.46" cy="325.86" r="1.65"/><circle cx="214.52" cy="325.86" r="1.65"/><circle cx="219.57" cy="325.86" r="1.65"/><circle cx="224.63" cy="325.86" r="1.65"/><circle cx="229.68" cy="325.86" r="1.65"/><circle cx="234.74" cy="325.86" r="1.65"/><circle cx="239.79" cy="325.86" r="1.65"/><circle cx="244.85" cy="325.86" r="1.65"/><circle cx="249.90" cy="325.86" r="1.65"/><circle cx="254.96" cy="325.86" r="1.65"/><circle cx="260.01" cy="325.86" r="1.65"/><circle cx="265.07" cy="325.86" r="1.65"/><circle cx="270.12" cy="325.86" r="1.65"/><circle cx="275.18" cy="325.86" r="1.65"/><circle cx="280.23" cy="325.86" r="1.65"/><circle cx="285.29" cy="325.86" r="1.65"/><circle cx="290.34" cy="325.86" r="1.65"/><circle cx="295.40" cy="325.86" r="1.65"/><circle cx="151.33" cy="321.48" r="1.65"/><circle cx="156.38" cy="321.48" r="1.65"/><circle cx="161.44" cy="321.48" r="1.65"/><circle cx="166.50" cy="321.48" r="1.65"/><circle cx="171.55" cy="321.48" r="1.65"/><circle cx="176.60" cy="321.48" r="1.65"/><circle cx="181.66" cy="321.48" r="1.65"/><circle cx="186.72" cy="321.48" r="1.65"/><circle cx="191.77" cy="321.48" r="1.65"/><circle cx="196.82" cy="321.48" r="1.65"/><circle cx="201.88" cy="321.48" r="1.65"/><circle cx="206.94" cy="321.48" r="1.65"/><circle cx="211.99" cy="321.48" r="1.65"/><circle cx="217.04" cy="321.48" r="1.65"/><circle cx="222.10" cy="321.48" r="1.65"/><circle cx="227.16" cy="321.48" r="1.65"/><circle cx="232.21" cy="321.48" r="1.65"/><circle cx="237.26" cy="321.48" r="1.65"/><circle cx="242.32" cy="321.48" r="1.65"/><circle cx="247.38" cy="321.48" r="1.65"/><circle cx="252.43" cy="321.48" r="1.65"/><circle cx="257.49" cy="321.48" r="1.65"/><circle cx="262.54" cy="321.48" r="1.65"/><circle cx="267.59" cy="321.48" r="1.65"/><circle cx="272.65" cy="321.48" r="1.65"/><circle cx="277.70" cy="321.48" r="1.65"/><circle cx="282.76" cy="321.48" r="1.65"/><circle cx="287.81" cy="321.48" r="1.65"/><circle cx="292.87" cy="321.48" r="1.65"/><circle cx="297.93" cy="321.48" r="1.65"/></g>
<rect x="85" y="311" width="1.9" height="12.5" fill="#2a2a2a"/>
<rect x="94" y="309.6" width="10" height="2.4" fill="#c4c4c4"/>
<rect x="90.5" y="315.5" width="18.5" height="8.5" fill="#a2d4a2"/>
<rect x="90.5" y="315.5" width="2" height="8" fill="#4a7a50"/>
<path d="M104 316 h4.5 v7.5 h-4.5 z" fill="none" stroke="#3c6a42" stroke-width="1"/>
<rect x="94.6" y="320" width="1.6" height="2.4" fill="#2a5a30"/>
<rect x="96.8" y="320" width="1.6" height="2.4" fill="#2a5a30"/>
<rect x="99.0" y="320" width="1.6" height="2.4" fill="#2a5a30"/>
<rect x="101.2" y="320" width="1.6" height="2.4" fill="#2a5a30"/>
<rect x="93.5" y="322.4" width="10" height="1" fill="#5a8a60"/>
<circle cx="89.3" cy="337.6" r="1.3" fill="#bcbcbc" stroke="#8a8a8a" stroke-width="0.5"/>
<circle cx="89.3" cy="363.8" r="1.3" fill="#bcbcbc" stroke="#8a8a8a" stroke-width="0.5"/>
<circle cx="89.3" cy="387" r="0.8" fill="#555"/>
<rect x="111.9" y="309.6" width="8.7" height="5.5" fill="#353535"/><rect x="113.8" y="311.9" width="4.9" height="1.1" fill="#e0e0e0"/>
<rect x="133.9" y="309.6" width="8.8" height="5.5" fill="#353535"/><rect x="135.8" y="311.9" width="5" height="1.1" fill="#e0e0e0"/><rect x="137.75" y="310.4" width="1.1" height="4" fill="#e0e0e0"/>
<circle cx="111" cy="317.8" r="1.1" fill="#b0b0b0" stroke="#777" stroke-width="0.4"/>
<circle cx="119.7" cy="317.8" r="1.1" fill="#b0b0b0" stroke="#777" stroke-width="0.4"/>
<circle cx="126.5" cy="317.8" r="1.1" fill="#b0b0b0" stroke="#777" stroke-width="0.4"/>
<circle cx="136" cy="317.8" r="1.1" fill="#b0b0b0" stroke="#777" stroke-width="0.4"/>
<circle cx="143" cy="317.8" r="1.1" fill="#b0b0b0" stroke="#777" stroke-width="0.4"/>
<circle cx="111" cy="354.8" r="1.1" fill="#b0b0b0" stroke="#777" stroke-width="0.4"/>
<circle cx="119.7" cy="354.8" r="1.1" fill="#b0b0b0" stroke="#777" stroke-width="0.4"/>
<circle cx="136" cy="354.8" r="1.1" fill="#b0b0b0" stroke="#777" stroke-width="0.4"/>
<circle cx="143" cy="354.8" r="1.1" fill="#b0b0b0" stroke="#777" stroke-width="0.4"/>
<rect x="113.8" y="320.1" width="7.5" height="33.5" fill="#3a3d44"/>
<rect x="116.5" y="321" width="1" height="32" fill="#555a62"/>
<rect x="108.3" y="322.4" width="6.4" height="30.3" fill="#7c8594"/>
<rect x="108.3" y="322.4" width="2.2" height="30.3" fill="#98a2b0"/>
<rect x="101" y="335.3" width="21" height="2.7" fill="#dcdcdc"/>
<rect x="101" y="338" width="21" height="0.8" fill="#8a8a8a"/>
<rect x="133.9" y="320.1" width="9.2" height="33.5" fill="#b02030"/>
<rect x="138.5" y="321" width="1" height="32" fill="#8a1a28"/>
<rect x="131.2" y="322.4" width="5.5" height="30.3" fill="#a9bcc5"/>
<rect x="143" y="325" width="3" height="10" fill="#3a3a3a"/>
<rect x="130.5" y="335.3" width="15.5" height="2.7" fill="#dcdcdc"/>
<rect x="130.5" y="338" width="15.5" height="0.8" fill="#8a8a8a"/>
<rect x="307" y="312.5" width="8" height="8.3" fill="#3a3a3a" stroke="#d8d8d8" stroke-width="1"/>
<rect x="306" y="321.5" width="10" height="4" fill="#d6d6d6"/>
<rect x="322.2" y="311.7" width="2" height="12.5" fill="#2a2a2a"/>
<rect x="372.6" y="311.7" width="2" height="12" fill="#2a2a2a"/>
<rect x="320.5" y="305.8" width="55.5" height="1.2" fill="#8c8c8c"/>
<rect x="333" y="309.2" width="5.4" height="2.5" fill="#4a4a4a"/>
<rect x="341.75" y="309.2" width="5.4" height="2.5" fill="#4a4a4a"/>
<rect x="350.5" y="309.2" width="5.4" height="2.5" fill="#4a4a4a"/>
<rect x="359.25" y="309.2" width="5.4" height="2.5" fill="#4a4a4a"/>
<rect x="326.3" y="322.5" width="8.4" height="13.3" fill="#2e3036"/>
<rect x="331" y="316" width="39.5" height="28.2" fill="#2a2c32"/>
<rect x="331" y="318.3" width="39.5" height="9.2" fill="#383a40"/>
<circle cx="336.1" cy="315.2" r="3" fill="#222"/>
<circle cx="344.8" cy="315.2" r="3" fill="#222"/>
<circle cx="353.6" cy="315.2" r="3" fill="#222"/>
<circle cx="363.1" cy="315.2" r="3" fill="#222"/>
<ellipse cx="361.5" cy="315.6" rx="5.2" ry="3.3" fill="#c9c07a"/>
<rect x="334.7" y="327.5" width="34.5" height="5.5" fill="#ececec"/>
<rect x="334.2" y="318" width="1.2" height="26" fill="#1a1a1a"/>
<rect x="343" y="318" width="1.2" height="26" fill="#1a1a1a"/>
<rect x="351.8" y="318" width="1.2" height="26" fill="#1a1a1a"/>
<rect x="360.5" y="318" width="1.2" height="26" fill="#1a1a1a"/>
<rect x="369" y="318" width="1.2" height="26" fill="#1a1a1a"/>
<rect x="332.2" y="333" width="37.8" height="11.2" fill="#30333a"/>
<rect x="370.5" y="318" width="2.5" height="20" fill="#2a2a2a"/>
<circle cx="370.4" cy="364" r="1.3" fill="#bcbcbc" stroke="#8a8a8a" stroke-width="0.5"/>
<circle cx="326.2" cy="387.2" r="0.8" fill="#555"/><circle cx="370.2" cy="387.2" r="0.8" fill="#555"/>
<g fill="none" stroke="#cdcdcd" stroke-width="0.6"><rect x="165" y="385.3" width="23" height="5"/><rect x="190.6" y="385.3" width="20.4" height="5"/><rect x="214.4" y="385.3" width="20.6" height="5"/></g>
<text x="238.5" y="389.6" style="font-size:4px;fill:#555">CE</text><circle cx="246.3" cy="388" r="1.4" fill="none" stroke="#555" stroke-width="0.6"/>
<rect x="252.2" y="385" width="0.8" height="6" fill="#777"/>
</g>
<g clip-path="url(#cc)">
<rect x="151.25" y="215.2" width="159.0" height="159.0" fill="#fff"/>
<rect x="155.5" y="291" width="165" height="90" fill="#e6e6e6"/>
<rect x="155.5" y="290.8" width="165" height="1.2" fill="#b8b8b8"/>
<rect x="155.5" y="292" width="165" height="1.1" fill="#ececec"/>
<rect x="155.5" y="293.1" width="165" height="0.8" fill="#c4c4c4"/>
<rect x="195.5" y="293.9" width="125" height="20.7" fill="#eeeeee"/>
<rect x="155.7" y="293.9" width="39.5" height="19.9" fill="#e9e9e9" stroke="#d6d6d6" stroke-width="0.6"/>
<rect x="158" y="314.3" width="162" height="1.5" fill="#383838"/>
<rect x="158" y="315.8" width="162" height="3.2" fill="#e0e0e0"/>
<rect x="158" y="317" width="162" height="1" fill="#9a9a9a"/>
<g fill="#3a2e35"><circle cx="156.50" cy="321.80" r="2.25"/><circle cx="163.00" cy="321.80" r="2.25"/><circle cx="169.50" cy="321.80" r="2.25"/><circle cx="176.00" cy="321.80" r="2.25"/><circle cx="182.50" cy="321.80" r="2.25"/><circle cx="189.00" cy="321.80" r="2.25"/><circle cx="195.50" cy="321.80" r="2.25"/><circle cx="202.00" cy="321.80" r="2.25"/><circle cx="208.50" cy="321.80" r="2.25"/><circle cx="215.00" cy="321.80" r="2.25"/><circle cx="221.50" cy="321.80" r="2.25"/><circle cx="228.00" cy="321.80" r="2.25"/><circle cx="234.50" cy="321.80" r="2.25"/><circle cx="241.00" cy="321.80" r="2.25"/><circle cx="247.50" cy="321.80" r="2.25"/><circle cx="254.00" cy="321.80" r="2.25"/><circle cx="260.50" cy="321.80" r="2.25"/><circle cx="267.00" cy="321.80" r="2.25"/><circle cx="273.50" cy="321.80" r="2.25"/><circle cx="280.00" cy="321.80" r="2.25"/><circle cx="286.50" cy="321.80" r="2.25"/><circle cx="293.00" cy="321.80" r="2.25"/><circle cx="299.50" cy="321.80" r="2.25"/><circle cx="306.00" cy="321.80" r="2.25"/><circle cx="312.50" cy="321.80" r="2.25"/><circle cx="319.00" cy="321.80" r="2.25"/><circle cx="159.75" cy="327.48" r="2.25"/><circle cx="166.25" cy="327.48" r="2.25"/><circle cx="172.75" cy="327.48" r="2.25"/><circle cx="179.25" cy="327.48" r="2.25"/><circle cx="185.75" cy="327.48" r="2.25"/><circle cx="192.25" cy="327.48" r="2.25"/><circle cx="198.75" cy="327.48" r="2.25"/><circle cx="205.25" cy="327.48" r="2.25"/><circle cx="211.75" cy="327.48" r="2.25"/><circle cx="218.25" cy="327.48" r="2.25"/><circle cx="224.75" cy="327.48" r="2.25"/><circle cx="231.25" cy="327.48" r="2.25"/><circle cx="237.75" cy="327.48" r="2.25"/><circle cx="244.25" cy="327.48" r="2.25"/><circle cx="250.75" cy="327.48" r="2.25"/><circle cx="257.25" cy="327.48" r="2.25"/><circle cx="263.75" cy="327.48" r="2.25"/><circle cx="270.25" cy="327.48" r="2.25"/><circle cx="276.75" cy="327.48" r="2.25"/><circle cx="283.25" cy="327.48" r="2.25"/><circle cx="289.75" cy="327.48" r="2.25"/><circle cx="296.25" cy="327.48" r="2.25"/><circle cx="302.75" cy="327.48" r="2.25"/><circle cx="309.25" cy="327.48" r="2.25"/><circle cx="315.75" cy="327.48" r="2.25"/><circle cx="156.50" cy="333.16" r="2.25"/><circle cx="163.00" cy="333.16" r="2.25"/><circle cx="169.50" cy="333.16" r="2.25"/><circle cx="176.00" cy="333.16" r="2.25"/><circle cx="182.50" cy="333.16" r="2.25"/><circle cx="189.00" cy="333.16" r="2.25"/><circle cx="195.50" cy="333.16" r="2.25"/><circle cx="202.00" cy="333.16" r="2.25"/><circle cx="208.50" cy="333.16" r="2.25"/><circle cx="215.00" cy="333.16" r="2.25"/><circle cx="221.50" cy="333.16" r="2.25"/><circle cx="228.00" cy="333.16" r="2.25"/><circle cx="234.50" cy="333.16" r="2.25"/><circle cx="241.00" cy="333.16" r="2.25"/><circle cx="247.50" cy="333.16" r="2.25"/><circle cx="254.00" cy="333.16" r="2.25"/><circle cx="260.50" cy="333.16" r="2.25"/><circle cx="267.00" cy="333.16" r="2.25"/><circle cx="273.50" cy="333.16" r="2.25"/><circle cx="280.00" cy="333.16" r="2.25"/><circle cx="286.50" cy="333.16" r="2.25"/><circle cx="293.00" cy="333.16" r="2.25"/><circle cx="299.50" cy="333.16" r="2.25"/><circle cx="306.00" cy="333.16" r="2.25"/><circle cx="312.50" cy="333.16" r="2.25"/><circle cx="319.00" cy="333.16" r="2.25"/><circle cx="159.75" cy="338.84" r="2.25"/><circle cx="166.25" cy="338.84" r="2.25"/><circle cx="172.75" cy="338.84" r="2.25"/><circle cx="179.25" cy="338.84" r="2.25"/><circle cx="185.75" cy="338.84" r="2.25"/><circle cx="192.25" cy="338.84" r="2.25"/><circle cx="198.75" cy="338.84" r="2.25"/><circle cx="205.25" cy="338.84" r="2.25"/><circle cx="211.75" cy="338.84" r="2.25"/><circle cx="218.25" cy="338.84" r="2.25"/><circle cx="224.75" cy="338.84" r="2.25"/><circle cx="231.25" cy="338.84" r="2.25"/><circle cx="237.75" cy="338.84" r="2.25"/><circle cx="244.25" cy="338.84" r="2.25"/><circle cx="250.75" cy="338.84" r="2.25"/><circle cx="257.25" cy="338.84" r="2.25"/><circle cx="263.75" cy="338.84" r="2.25"/><circle cx="270.25" cy="338.84" r="2.25"/><circle cx="276.75" cy="338.84" r="2.25"/><circle cx="283.25" cy="338.84" r="2.25"/><circle cx="289.75" cy="338.84" r="2.25"/><circle cx="296.25" cy="338.84" r="2.25"/><circle cx="302.75" cy="338.84" r="2.25"/><circle cx="309.25" cy="338.84" r="2.25"/><circle cx="315.75" cy="338.84" r="2.25"/><circle cx="156.50" cy="344.52" r="2.25"/><circle cx="163.00" cy="344.52" r="2.25"/><circle cx="169.50" cy="344.52" r="2.25"/><circle cx="176.00" cy="344.52" r="2.25"/><circle cx="182.50" cy="344.52" r="2.25"/><circle cx="189.00" cy="344.52" r="2.25"/><circle cx="195.50" cy="344.52" r="2.25"/><circle cx="202.00" cy="344.52" r="2.25"/><circle cx="208.50" cy="344.52" r="2.25"/><circle cx="215.00" cy="344.52" r="2.25"/><circle cx="221.50" cy="344.52" r="2.25"/><circle cx="228.00" cy="344.52" r="2.25"/><circle cx="234.50" cy="344.52" r="2.25"/><circle cx="241.00" cy="344.52" r="2.25"/><circle cx="247.50" cy="344.52" r="2.25"/><circle cx="254.00" cy="344.52" r="2.25"/><circle cx="260.50" cy="344.52" r="2.25"/><circle cx="267.00" cy="344.52" r="2.25"/><circle cx="273.50" cy="344.52" r="2.25"/><circle cx="280.00" cy="344.52" r="2.25"/><circle cx="286.50" cy="344.52" r="2.25"/><circle cx="293.00" cy="344.52" r="2.25"/><circle cx="299.50" cy="344.52" r="2.25"/><circle cx="306.00" cy="344.52" r="2.25"/><circle cx="312.50" cy="344.52" r="2.25"/><circle cx="319.00" cy="344.52" r="2.25"/><circle cx="159.75" cy="350.20" r="2.25"/><circle cx="166.25" cy="350.20" r="2.25"/><circle cx="172.75" cy="350.20" r="2.25"/><circle cx="179.25" cy="350.20" r="2.25"/><circle cx="185.75" cy="350.20" r="2.25"/><circle cx="192.25" cy="350.20" r="2.25"/><circle cx="198.75" cy="350.20" r="2.25"/><circle cx="205.25" cy="350.20" r="2.25"/><circle cx="211.75" cy="350.20" r="2.25"/><circle cx="218.25" cy="350.20" r="2.25"/><circle cx="224.75" cy="350.20" r="2.25"/><circle cx="231.25" cy="350.20" r="2.25"/><circle cx="237.75" cy="350.20" r="2.25"/><circle cx="244.25" cy="350.20" r="2.25"/><circle cx="250.75" cy="350.20" r="2.25"/><circle cx="257.25" cy="350.20" r="2.25"/><circle cx="263.75" cy="350.20" r="2.25"/><circle cx="270.25" cy="350.20" r="2.25"/><circle cx="276.75" cy="350.20" r="2.25"/><circle cx="283.25" cy="350.20" r="2.25"/><circle cx="289.75" cy="350.20" r="2.25"/><circle cx="296.25" cy="350.20" r="2.25"/><circle cx="302.75" cy="350.20" r="2.25"/><circle cx="309.25" cy="350.20" r="2.25"/><circle cx="315.75" cy="350.20" r="2.25"/><circle cx="156.50" cy="355.88" r="2.25"/><circle cx="163.00" cy="355.88" r="2.25"/><circle cx="169.50" cy="355.88" r="2.25"/><circle cx="176.00" cy="355.88" r="2.25"/><circle cx="182.50" cy="355.88" r="2.25"/><circle cx="189.00" cy="355.88" r="2.25"/><circle cx="195.50" cy="355.88" r="2.25"/><circle cx="202.00" cy="355.88" r="2.25"/><circle cx="208.50" cy="355.88" r="2.25"/><circle cx="215.00" cy="355.88" r="2.25"/><circle cx="221.50" cy="355.88" r="2.25"/><circle cx="228.00" cy="355.88" r="2.25"/><circle cx="234.50" cy="355.88" r="2.25"/><circle cx="241.00" cy="355.88" r="2.25"/><circle cx="247.50" cy="355.88" r="2.25"/><circle cx="254.00" cy="355.88" r="2.25"/><circle cx="260.50" cy="355.88" r="2.25"/><circle cx="267.00" cy="355.88" r="2.25"/><circle cx="273.50" cy="355.88" r="2.25"/><circle cx="280.00" cy="355.88" r="2.25"/><circle cx="286.50" cy="355.88" r="2.25"/><circle cx="293.00" cy="355.88" r="2.25"/><circle cx="299.50" cy="355.88" r="2.25"/><circle cx="306.00" cy="355.88" r="2.25"/><circle cx="312.50" cy="355.88" r="2.25"/><circle cx="319.00" cy="355.88" r="2.25"/><circle cx="159.75" cy="361.56" r="2.25"/><circle cx="166.25" cy="361.56" r="2.25"/><circle cx="172.75" cy="361.56" r="2.25"/><circle cx="179.25" cy="361.56" r="2.25"/><circle cx="185.75" cy="361.56" r="2.25"/><circle cx="192.25" cy="361.56" r="2.25"/><circle cx="198.75" cy="361.56" r="2.25"/><circle cx="205.25" cy="361.56" r="2.25"/><circle cx="211.75" cy="361.56" r="2.25"/><circle cx="218.25" cy="361.56" r="2.25"/><circle cx="224.75" cy="361.56" r="2.25"/><circle cx="231.25" cy="361.56" r="2.25"/><circle cx="237.75" cy="361.56" r="2.25"/><circle cx="244.25" cy="361.56" r="2.25"/><circle cx="250.75" cy="361.56" r="2.25"/><circle cx="257.25" cy="361.56" r="2.25"/><circle cx="263.75" cy="361.56" r="2.25"/><circle cx="270.25" cy="361.56" r="2.25"/><circle cx="276.75" cy="361.56" r="2.25"/><circle cx="283.25" cy="361.56" r="2.25"/><circle cx="289.75" cy="361.56" r="2.25"/><circle cx="296.25" cy="361.56" r="2.25"/><circle cx="302.75" cy="361.56" r="2.25"/><circle cx="309.25" cy="361.56" r="2.25"/><circle cx="315.75" cy="361.56" r="2.25"/><circle cx="156.50" cy="367.24" r="2.25"/><circle cx="163.00" cy="367.24" r="2.25"/><circle cx="169.50" cy="367.24" r="2.25"/><circle cx="176.00" cy="367.24" r="2.25"/><circle cx="182.50" cy="367.24" r="2.25"/><circle cx="189.00" cy="367.24" r="2.25"/><circle cx="195.50" cy="367.24" r="2.25"/><circle cx="202.00" cy="367.24" r="2.25"/><circle cx="208.50" cy="367.24" r="2.25"/><circle cx="215.00" cy="367.24" r="2.25"/><circle cx="221.50" cy="367.24" r="2.25"/><circle cx="228.00" cy="367.24" r="2.25"/><circle cx="234.50" cy="367.24" r="2.25"/><circle cx="241.00" cy="367.24" r="2.25"/><circle cx="247.50" cy="367.24" r="2.25"/><circle cx="254.00" cy="367.24" r="2.25"/><circle cx="260.50" cy="367.24" r="2.25"/><circle cx="267.00" cy="367.24" r="2.25"/><circle cx="273.50" cy="367.24" r="2.25"/><circle cx="280.00" cy="367.24" r="2.25"/><circle cx="286.50" cy="367.24" r="2.25"/><circle cx="293.00" cy="367.24" r="2.25"/><circle cx="299.50" cy="367.24" r="2.25"/><circle cx="306.00" cy="367.24" r="2.25"/><circle cx="312.50" cy="367.24" r="2.25"/><circle cx="319.00" cy="367.24" r="2.25"/><circle cx="159.75" cy="372.92" r="2.25"/><circle cx="166.25" cy="372.92" r="2.25"/><circle cx="172.75" cy="372.92" r="2.25"/><circle cx="179.25" cy="372.92" r="2.25"/><circle cx="185.75" cy="372.92" r="2.25"/><circle cx="192.25" cy="372.92" r="2.25"/><circle cx="198.75" cy="372.92" r="2.25"/><circle cx="205.25" cy="372.92" r="2.25"/><circle cx="211.75" cy="372.92" r="2.25"/><circle cx="218.25" cy="372.92" r="2.25"/><circle cx="224.75" cy="372.92" r="2.25"/><circle cx="231.25" cy="372.92" r="2.25"/><circle cx="237.75" cy="372.92" r="2.25"/><circle cx="244.25" cy="372.92" r="2.25"/><circle cx="250.75" cy="372.92" r="2.25"/><circle cx="257.25" cy="372.92" r="2.25"/><circle cx="263.75" cy="372.92" r="2.25"/><circle cx="270.25" cy="372.92" r="2.25"/><circle cx="276.75" cy="372.92" r="2.25"/><circle cx="283.25" cy="372.92" r="2.25"/><circle cx="289.75" cy="372.92" r="2.25"/><circle cx="296.25" cy="372.92" r="2.25"/><circle cx="302.75" cy="372.92" r="2.25"/><circle cx="309.25" cy="372.92" r="2.25"/><circle cx="315.75" cy="372.92" r="2.25"/><circle cx="156.50" cy="378.60" r="2.25"/><circle cx="163.00" cy="378.60" r="2.25"/><circle cx="169.50" cy="378.60" r="2.25"/><circle cx="176.00" cy="378.60" r="2.25"/><circle cx="182.50" cy="378.60" r="2.25"/><circle cx="189.00" cy="378.60" r="2.25"/><circle cx="195.50" cy="378.60" r="2.25"/><circle cx="202.00" cy="378.60" r="2.25"/><circle cx="208.50" cy="378.60" r="2.25"/><circle cx="215.00" cy="378.60" r="2.25"/><circle cx="221.50" cy="378.60" r="2.25"/><circle cx="228.00" cy="378.60" r="2.25"/><circle cx="234.50" cy="378.60" r="2.25"/><circle cx="241.00" cy="378.60" r="2.25"/><circle cx="247.50" cy="378.60" r="2.25"/><circle cx="254.00" cy="378.60" r="2.25"/><circle cx="260.50" cy="378.60" r="2.25"/><circle cx="267.00" cy="378.60" r="2.25"/><circle cx="273.50" cy="378.60" r="2.25"/><circle cx="280.00" cy="378.60" r="2.25"/><circle cx="286.50" cy="378.60" r="2.25"/><circle cx="293.00" cy="378.60" r="2.25"/><circle cx="299.50" cy="378.60" r="2.25"/><circle cx="306.00" cy="378.60" r="2.25"/><circle cx="312.50" cy="378.60" r="2.25"/><circle cx="319.00" cy="378.60" r="2.25"/><circle cx="159.75" cy="384.28" r="2.25"/><circle cx="166.25" cy="384.28" r="2.25"/><circle cx="172.75" cy="384.28" r="2.25"/><circle cx="179.25" cy="384.28" r="2.25"/><circle cx="185.75" cy="384.28" r="2.25"/><circle cx="192.25" cy="384.28" r="2.25"/><circle cx="198.75" cy="384.28" r="2.25"/><circle cx="205.25" cy="384.28" r="2.25"/><circle cx="211.75" cy="384.28" r="2.25"/><circle cx="218.25" cy="384.28" r="2.25"/><circle cx="224.75" cy="384.28" r="2.25"/><circle cx="231.25" cy="384.28" r="2.25"/><circle cx="237.75" cy="384.28" r="2.25"/><circle cx="244.25" cy="384.28" r="2.25"/><circle cx="250.75" cy="384.28" r="2.25"/><circle cx="257.25" cy="384.28" r="2.25"/><circle cx="263.75" cy="384.28" r="2.25"/><circle cx="270.25" cy="384.28" r="2.25"/><circle cx="276.75" cy="384.28" r="2.25"/><circle cx="283.25" cy="384.28" r="2.25"/><circle cx="289.75" cy="384.28" r="2.25"/><circle cx="296.25" cy="384.28" r="2.25"/><circle cx="302.75" cy="384.28" r="2.25"/><circle cx="309.25" cy="384.28" r="2.25"/><circle cx="315.75" cy="384.28" r="2.25"/></g>
<rect x="197.3" y="304.7" width="3.9" height="6.2" rx="1" fill="#1e1e1e"/>
<circle cx="199.2" cy="302.5" r="0.9" fill="none" stroke="#666" stroke-width="0.5"/>
<rect x="203.5" y="303.5" width="29.2" height="10.2" fill="#98d698"/>
<rect x="203.5" y="303.5" width="29.2" height="1.4" fill="#b6e4b6"/>
<rect x="203.5" y="312.6" width="29.2" height="1.1" fill="#6aa870"/>
<rect x="205.40" y="309.1" width="2.0" height="3.2" fill="#245a2c"/>
<rect x="208.80" y="309.1" width="2.0" height="3.2" fill="#245a2c"/>
<rect x="212.20" y="309.1" width="2.0" height="3.2" fill="#245a2c"/>
<rect x="215.60" y="309.1" width="2.0" height="3.2" fill="#245a2c"/>
<rect x="219.00" y="309.1" width="2.0" height="3.2" fill="#245a2c"/>
<rect x="222.40" y="309.1" width="2.0" height="3.2" fill="#245a2c"/>
<rect x="225.80" y="309.1" width="2.0" height="3.2" fill="#245a2c"/>
<rect x="229.20" y="309.1" width="2.0" height="3.2" fill="#245a2c"/>
<rect x="233.3" y="303.6" width="8.4" height="9.9" fill="#98d698"/>
<rect x="233.3" y="303.6" width="8.4" height="1.4" fill="#b6e4b6"/>
<rect x="235.0" y="308.6" width="2.0" height="3.2" fill="#245a2c"/><rect x="238.2" y="308.6" width="2.0" height="3.2" fill="#245a2c"/>
<rect x="244.8" y="298" width="13" height="12.8" fill="#353535"/>
<rect x="245.9" y="299.1" width="10.8" height="10.6" fill="#3d3339"/>
<rect x="247" y="301" width="8.6" height="6.5" fill="#2a2227"/>
<rect x="260.8" y="302.9" width="22.7" height="6.5" fill="#a2d8a2"/>
<rect x="265.6" y="306" width="14.4" height="7.2" fill="#8ccc8c"/>
<rect x="261.5" y="304" width="2.4" height="2.6" fill="#5e9e64"/><rect x="280.3" y="304" width="2.4" height="2.6" fill="#5e9e64"/>
<rect x="267.00" y="308" width="2.4" height="2.4" fill="#245a2c"/>
<rect x="271.50" y="308" width="2.4" height="2.4" fill="#245a2c"/>
<rect x="276.00" y="308" width="2.4" height="2.4" fill="#245a2c"/>
<rect x="285.2" y="299.8" width="11.3" height="10.6" fill="#5a5a5a"/>
<rect x="286.3" y="300.9" width="9.1" height="8.4" fill="#8a8888"/>
<rect x="289" y="304.2" width="4.1" height="3.5" fill="#f4f4f4"/>
<rect x="298" y="300.8" width="8" height="9.6" fill="#2a2a2a"/>
<rect x="299" y="302" width="6" height="2" fill="#4a4a4a"/>
<rect x="174.35" y="262" width="1.1" height="45.5" fill="#5a1020"/>
<rect x="219.75" y="262" width="1.1" height="47" fill="#5a1020"/>
<rect x="237.75" y="262" width="1.1" height="47" fill="#5a1020"/>
<rect x="253.05" y="262" width="1.1" height="43" fill="#5a1020"/>
<rect x="271.95" y="262" width="1.1" height="48.39999999999998" fill="#5a1020"/>
<rect x="287.75" y="262" width="1.1" height="45.69999999999999" fill="#5a1020"/>
<circle cx="174.9" cy="262.4" r="5.6" fill="#b01436"/>
<text x="174.9" y="266.1" text-anchor="middle" class="bn">5</text>
<circle cx="220.3" cy="262.4" r="5.6" fill="#b01436"/>
<text x="220.3" y="266.1" text-anchor="middle" class="bn">4</text>
<circle cx="238.3" cy="262.4" r="5.6" fill="#b01436"/>
<text x="238.3" y="266.1" text-anchor="middle" class="bn">3</text>
<circle cx="253.6" cy="262.4" r="5.6" fill="#b01436"/>
<text x="253.6" y="266.1" text-anchor="middle" class="bn">2</text>
<circle cx="272.5" cy="262.4" r="5.6" fill="#b01436"/>
<text x="272.5" y="266.1" text-anchor="middle" class="bn">6</text>
<circle cx="288.3" cy="262.4" r="5.6" fill="#b01436"/>
<text x="288.3" y="266.1" text-anchor="middle" class="bn">1</text>
</g>
<circle cx="230.75" cy="294.7" r="77.5" fill="none" stroke="#fff" stroke-width="3.2"/>
<circle cx="230.75" cy="294.7" r="79.5" fill="none" stroke="#505050" stroke-width="1.4" stroke-dasharray="2.55 1.9"/></g>
<g filter="url(#bl2)">
<rect x="409.5" y="207.5" width="96" height="84" fill="#fff" stroke="#6e6e6e" stroke-width="1.3"/>
<circle cx="423" cy="218.5" r="6.3" fill="#b01436"/>
<text x="423" y="222.1" text-anchor="middle" style="font-family:'Liberation Sans';font-size:10.5px;fill:#fff;stroke:#fff;stroke-width:0.3px">1</text>
<text class="t" x="437.5" y="221.6" textLength="58" lengthAdjust="spacingAndGlyphs">Standardowy</text>
<text class="t" x="437.5" y="236.8" textLength="59" lengthAdjust="spacingAndGlyphs">interfejs USB</text>
<rect x="517.5" y="207.5" width="96" height="84" fill="#fff" stroke="#6e6e6e" stroke-width="1.3"/>
<circle cx="531" cy="218.5" r="6.3" fill="#b01436"/>
<text x="531" y="222.1" text-anchor="middle" style="font-family:'Liberation Sans';font-size:10.5px;fill:#fff;stroke:#fff;stroke-width:0.3px">2</text>
<text class="t" x="543.5" y="221.6" textLength="58.5" lengthAdjust="spacingAndGlyphs">Standardowy</text>
<text class="t" x="543.5" y="236.8" textLength="59" lengthAdjust="spacingAndGlyphs">interfejs LAN</text>
<rect x="625.5" y="207.5" width="96" height="84" fill="#fff" stroke="#6e6e6e" stroke-width="1.3"/>
<circle cx="638.5" cy="218.7" r="6.3" fill="#b01436"/>
<text x="638.5" y="222.29999999999998" text-anchor="middle" style="font-family:'Liberation Sans';font-size:10.5px;fill:#fff;stroke:#fff;stroke-width:0.3px">3</text>
<text class="t" x="651.5" y="222" textLength="58.2" lengthAdjust="spacingAndGlyphs">Standardowy</text>
<text class="t" x="651.5" y="237.2" textLength="59.8" lengthAdjust="spacingAndGlyphs">interfejs CAN</text>
<rect x="409.5" y="308.5" width="96" height="84.9" fill="#fff" stroke="#6e6e6e" stroke-width="1.3"/>
<circle cx="422.5" cy="320.4" r="6.3" fill="#b01436"/>
<text x="422.5" y="324.0" text-anchor="middle" style="font-family:'Liberation Sans';font-size:10.5px;fill:#fff;stroke:#fff;stroke-width:0.3px">4</text>
<text class="t" x="432.6" y="322.8" textLength="58.2" lengthAdjust="spacingAndGlyphs">Standardowy</text>
<text class="t" x="432.6" y="337.7" textLength="66.4" lengthAdjust="spacingAndGlyphs">interfejs we/wy</text>
<rect x="517.5" y="308.5" width="96" height="84.9" fill="#fff" stroke="#6e6e6e" stroke-width="1.3"/>
<circle cx="527" cy="318.2" r="6.3" fill="#b01436"/>
<text x="527" y="321.8" text-anchor="middle" style="font-family:'Liberation Sans';font-size:10.5px;fill:#fff;stroke:#fff;stroke-width:0.3px">5</text>
<text class="t" x="539.4" y="321.6" textLength="60.6" lengthAdjust="spacingAndGlyphs">Opc. RS-232C</text>
<text class="t" x="524.5" y="337" textLength="79.6" lengthAdjust="spacingAndGlyphs">i wy. c/a lub GPiB</text>
<rect x="625.5" y="308.5" width="96" height="84.9" fill="#fff" stroke="#6e6e6e" stroke-width="1.3"/>
<circle cx="638" cy="320.4" r="6.3" fill="#b01436"/>
<text x="638" y="324.0" text-anchor="middle" style="font-family:'Liberation Sans';font-size:10.5px;fill:#fff;stroke:#fff;stroke-width:0.3px">6</text>
<text class="t" x="651.5" y="321" textLength="64.8" lengthAdjust="spacingAndGlyphs">Interfejs zewn.</text>
<text class="t" x="651.5" y="335.6" textLength="47.5" lengthAdjust="spacingAndGlyphs">sterowania</text>
<rect x="442.2" y="244.2" width="35.8" height="41.6" fill="#c6c6c6"/>
<text x="459.7" y="251.8" style="font-size:4.8px;fill:#333" textLength="12" lengthAdjust="spacingAndGlyphs">USB</text>
<path d="M448 250 h9 M452 248.5 l2 1.5 l-2 1.5" stroke="#333" stroke-width="0.8" fill="none"/>
<rect x="446" y="255" width="28.2" height="26.7" fill="#161616"/>
<rect x="447.8" y="256.8" width="24.6" height="23.1" fill="#4e4c46"/>
<path d="M449.5 276 L451.5 260 L468.5 260 L470.5 276 Z" fill="#6f6c62" stroke="#aaa89c" stroke-width="0.6"/>
<rect x="453.8" y="264.6" width="12.1" height="7.4" fill="#ece8dc"/>
<path d="M449.7 275 h20.8" stroke="#d8d6cc" stroke-width="1.6"/>
<rect x="545.75" y="243.75" width="42" height="40.85" fill="#cacaca"/>
<text x="560" y="248.9" style="font-size:5.6px;fill:#333" textLength="12.4" lengthAdjust="spacingAndGlyphs">LAN</text>
<rect x="548.7" y="250.7" width="34.1" height="28.9" fill="#151515"/>
<rect x="549.8" y="251.8" width="31.9" height="26.7" fill="#b4b2aa"/>
<rect x="552.8" y="255.4" width="25.9" height="17.9" fill="#161616"/>
<rect x="551" y="272" width="7.7" height="4.7" fill="#3f6a48"/><rect x="570.5" y="272" width="8.2" height="4.7" fill="#3f6a48"/><rect x="558.7" y="272" width="11.8" height="4.7" fill="#2a2e3a"/>
<rect x="549.8" y="276.5" width="31.9" height="2" fill="#1a1a1a"/>
<rect x="659.7" y="243" width="29.7" height="45" fill="#cfcfcf"/>
<text x="666.9" y="248.6" style="font-size:6.6px;fill:#222" textLength="16.2" lengthAdjust="spacingAndGlyphs">CAN</text>
<path d="M670 255 v-3.2 h10 v3.2" stroke="#333" stroke-width="0.9" fill="none"/>
<text x="668.2" y="261" style="font-size:6.4px;fill:#333">H</text><text x="677.7" y="261" style="font-size:6.4px;fill:#333">L</text>
<rect x="662.8" y="264.6" width="24.3" height="20.2" fill="#58b066"/>
<rect x="663.6" y="265.4" width="22.7" height="18.6" fill="none" stroke="#244a2a" stroke-width="0.8"/>
<rect x="665.5" y="268.6" width="9" height="13.4" fill="#14301a"/><rect x="675.5" y="268.6" width="8.6" height="13.4" fill="#14301a"/>
<path d="M666 267 h8 M676 267 h8" stroke="#8ad892" stroke-width="1.2"/>
<rect x="430.1" y="345.7" width="58.6" height="36.7" fill="#cdcdcd"/>
<rect x="430.1" y="375" width="58.6" height="7.4" fill="#c0c0c0"/>
<text x="453.2" y="350.8" style="font-size:4.5px;fill:#333" textLength="11.6" lengthAdjust="spacingAndGlyphs">P-IO</text>
<path d="M438.4 357 v-4.7 h42.5 v4.7" stroke="#555" stroke-width="0.6" fill="none"/>
<text x="443.5" y="359.2" text-anchor="middle" style="font-size:3.6px;fill:#444">2</text>
<text x="449.7" y="359.2" text-anchor="middle" style="font-size:3.6px;fill:#444">3</text>
<text x="455.9" y="359.2" text-anchor="middle" style="font-size:3.6px;fill:#444">4</text>
<text x="462.1" y="359.2" text-anchor="middle" style="font-size:3.6px;fill:#444">5</text>
<text x="468.3" y="359.2" text-anchor="middle" style="font-size:3.6px;fill:#444">6</text>
<text x="474.5" y="359.2" text-anchor="middle" style="font-size:3.6px;fill:#444">7</text>
<text x="480.7" y="359.2" text-anchor="middle" style="font-size:3.6px;fill:#444">8</text>
<rect x="433" y="361.8" width="51.2" height="13.2" fill="#4d9a58"/>
<rect x="433" y="361.8" width="51.2" height="2" fill="#80c888"/>
<rect x="435.0" y="363.9" width="4.6" height="8.2" fill="#1c3f22"/>
<rect x="441.2" y="363.9" width="4.6" height="8.2" fill="#1c3f22"/>
<rect x="447.4" y="363.9" width="4.6" height="8.2" fill="#1c3f22"/>
<rect x="453.6" y="363.9" width="4.6" height="8.2" fill="#1c3f22"/>
<rect x="459.8" y="363.9" width="4.6" height="8.2" fill="#1c3f22"/>
<rect x="466.0" y="363.9" width="4.6" height="8.2" fill="#1c3f22"/>
<rect x="472.2" y="363.9" width="4.6" height="8.2" fill="#1c3f22"/>
<rect x="478.4" y="363.9" width="4.6" height="8.2" fill="#1c3f22"/>
<rect x="433" y="373.5" width="51.2" height="1.5" fill="#2a5530"/>
<rect x="530.2" y="346" width="75.6" height="36.4" fill="#1c1c1c"/>
<rect x="530.2" y="346" width="75.6" height="3" fill="#2a2a2a"/>
<path d="M536 350.8 L600 350.8 Q604.8 351 604.3 355 L601 377 L604 379.5 L592 379.5 L594 374 L542 374 L544 379.5 L532 379.5 L535 377 L531.8 355 Q531.5 351 536 350.8 Z" fill="#c9c5b9"/>
<path d="M537 352.5 L599 352.5 Q602 352.7 601.6 355.5 L598.5 375.5 L537.5 375.5 L534.4 355.5 Q534 352.7 537 352.5 Z" fill="#e6e3da"/>
<path d="M538.5 354.8 L597.5 354.8 Q600 355 599.6 357.5 L596.6 372 Q596 374 594 374 L542 374 Q540 374 539.4 372 L536.4 357.5 Q536 355 538.5 354.8 Z" fill="#86a9dc"/>
<path d="M539.5 356.2 L596.5 356.2 Q598.3 356.4 598 358.3 L595.3 371.2 Q594.9 372.6 593.5 372.6 L542.5 372.6 Q541.1 372.6 540.7 371.2 L538 358.3 Q537.7 356.4 539.5 356.2 Z" fill="#3f68ad"/>
<rect x="542.6" y="358.2" width="2.2" height="1.8" fill="#1b2d5c"/>
<rect x="546.8" y="358.2" width="2.2" height="1.8" fill="#1b2d5c"/>
<rect x="551.0" y="358.2" width="2.2" height="1.8" fill="#1b2d5c"/>
<rect x="555.2" y="358.2" width="2.2" height="1.8" fill="#1b2d5c"/>
<rect x="559.4" y="358.2" width="2.2" height="1.8" fill="#1b2d5c"/>
<rect x="563.6" y="358.2" width="2.2" height="1.8" fill="#1b2d5c"/>
<rect x="567.8" y="358.2" width="2.2" height="1.8" fill="#1b2d5c"/>
<rect x="572.0" y="358.2" width="2.2" height="1.8" fill="#1b2d5c"/>
<rect x="576.2" y="358.2" width="2.2" height="1.8" fill="#1b2d5c"/>
<rect x="580.4" y="358.2" width="2.2" height="1.8" fill="#1b2d5c"/>
<rect x="584.6" y="358.2" width="2.2" height="1.8" fill="#1b2d5c"/>
<rect x="588.8" y="358.2" width="2.2" height="1.8" fill="#1b2d5c"/>
<rect x="540.5" y="362.3" width="55" height="2.2" fill="#2c4e8e"/>
<rect x="543.6" y="366" width="2.2" height="1.8" fill="#1b2d5c"/>
<rect x="547.7" y="366" width="2.2" height="1.8" fill="#1b2d5c"/>
<rect x="551.8" y="366" width="2.2" height="1.8" fill="#1b2d5c"/>
<rect x="555.9" y="366" width="2.2" height="1.8" fill="#1b2d5c"/>
<rect x="560.0" y="366" width="2.2" height="1.8" fill="#1b2d5c"/>
<rect x="564.1" y="366" width="2.2" height="1.8" fill="#1b2d5c"/>
<rect x="568.2" y="366" width="2.2" height="1.8" fill="#1b2d5c"/>
<rect x="572.3" y="366" width="2.2" height="1.8" fill="#1b2d5c"/>
<rect x="576.4" y="366" width="2.2" height="1.8" fill="#1b2d5c"/>
<rect x="580.5" y="366" width="2.2" height="1.8" fill="#1b2d5c"/>
<rect x="584.6" y="366" width="2.2" height="1.8" fill="#1b2d5c"/>
<rect x="588.7" y="366" width="2.2" height="1.8" fill="#1b2d5c"/>
<rect x="544.0" y="369.6" width="2.2" height="1.6" fill="#1b2d5c"/>
<rect x="548.0" y="369.6" width="2.2" height="1.6" fill="#1b2d5c"/>
<rect x="552.1" y="369.6" width="2.2" height="1.6" fill="#1b2d5c"/>
<rect x="556.1" y="369.6" width="2.2" height="1.6" fill="#1b2d5c"/>
<rect x="560.2" y="369.6" width="2.2" height="1.6" fill="#1b2d5c"/>
<rect x="564.2" y="369.6" width="2.2" height="1.6" fill="#1b2d5c"/>
<rect x="568.3" y="369.6" width="2.2" height="1.6" fill="#1b2d5c"/>
<rect x="572.4" y="369.6" width="2.2" height="1.6" fill="#1b2d5c"/>
<rect x="576.4" y="369.6" width="2.2" height="1.6" fill="#1b2d5c"/>
<rect x="580.5" y="369.6" width="2.2" height="1.6" fill="#1b2d5c"/>
<rect x="584.5" y="369.6" width="2.2" height="1.6" fill="#1b2d5c"/>
<rect x="588.5" y="369.6" width="2.2" height="1.6" fill="#1b2d5c"/>
<rect x="540" y="374.2" width="56" height="4" fill="#151515"/>
<rect x="651.3" y="345.7" width="48.4" height="34.8" fill="#c8c8c8"/>
<text x="670" y="349.9" style="font-size:4.5px;fill:#333" textLength="11" lengthAdjust="spacingAndGlyphs">CTRL</text>
<path d="M668 352.3 h16" stroke="#666" stroke-width="0.6"/>
<text x="664.9" y="358" style="font-size:3.6px;fill:#333" textLength="23" lengthAdjust="spacingAndGlyphs">PON  ⊕  12V</text>
<rect x="655.7" y="359.6" width="41" height="13.9" fill="#4ca05a"/>
<rect x="663.8" y="360.3" width="24.2" height="9.9" fill="#1a4a25"/>
<circle cx="660.5" cy="366.6" r="2" fill="#2a5a30" stroke="#8ad892" stroke-width="0.6"/>
<circle cx="692" cy="366.6" r="2" fill="#2a5a30" stroke="#8ad892" stroke-width="0.6"/>
<rect x="655.7" y="372.3" width="41" height="1.2" fill="#2a5530"/>
</g>
</svg></body></html>
